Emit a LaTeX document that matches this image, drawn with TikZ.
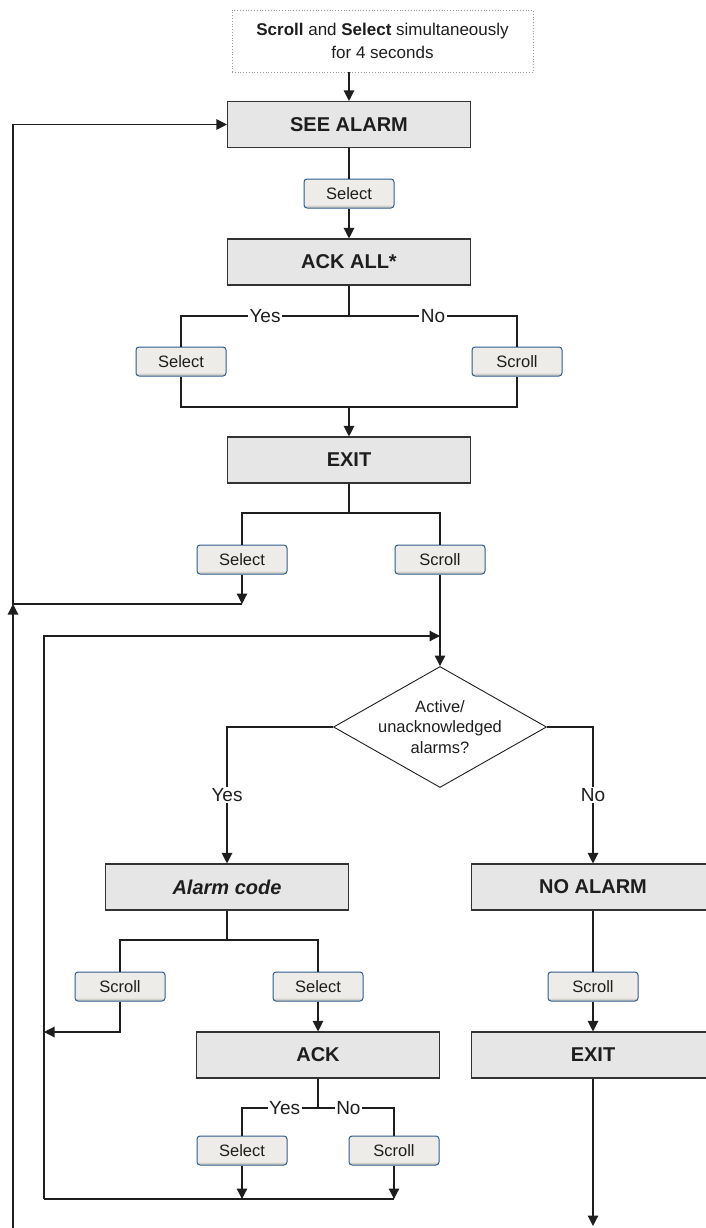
\documentclass[tikz,border=0pt]{standalone}
\usepackage{fontspec}
\setmainfont{Liberation Sans}
\usepackage{tikz}
\usetikzlibrary{shapes.geometric,arrows.meta}

\definecolor{boxfill}{HTML}{E6E6E6}
\definecolor{boxline}{HTML}{333333}
\definecolor{btnfill}{HTML}{EDECE8}
\definecolor{btnline}{HTML}{2E5D8C}
\definecolor{btnshade}{HTML}{D6D3CA}
\definecolor{wire}{HTML}{1E1E1E}
\definecolor{dotline}{HTML}{9A9A9A}

\tikzset{
  menubox/.style={draw=boxline, fill=boxfill, line width=1.1pt, minimum width=243pt,
    minimum height=46pt, inner sep=0pt, font=\fontsize{20}{24}\selectfont\bfseries},
  keybtn/.style={draw=btnline, fill=btnfill, rounded corners=3pt, line width=1pt,
    minimum width=90pt, minimum height=29pt, inner sep=0pt, font=\fontsize{16.5}{20}\selectfont,
    path picture={\fill[btnshade] ([yshift=2.5pt]path picture bounding box.south west)
      rectangle (path picture bounding box.south east);}},
  answer/.style={fill=white, inner sep=1.5pt, font=\fontsize{19}{22}\selectfont},
  query/.style={diamond, draw=wire, line width=0.9pt, minimum width=213pt, minimum height=121pt,
    inner sep=-20pt, align=center, font=\fontsize{16.5}{20.5}\selectfont},
  startbox/.style={draw=dotline, dotted, line width=0.8pt, minimum width=301pt, minimum height=62pt,
    align=center, font=\fontsize{17}{23}\selectfont},
}

\begin{document}
\begin{tikzpicture}[x=1pt,y=-1pt,>={Triangle[length=10.5pt,width=10.5pt]},line width=1.2pt,color=wire]
  \useasboundingbox (0,0) rectangle (705,1228);

  % upper menu
  \node[startbox] (start) at (382.5,41) {\textbf{Scroll} and \textbf{Select} simultaneously\\for 4 seconds};
  \node[menubox] (seealarm) at (349,124.5) {SEE ALARM};
  \node[keybtn] (sel1) at (349,193.5) {Select};
  \node[menubox] (ackall) at (349,262) {ACK ALL*};
  \node[keybtn] (sel2) at (181,361.5) {Select};
  \node[keybtn] (scr2) at (517,361.5) {Scroll};
  \node[menubox] (exit1) at (349,460) {EXIT};
  \node[keybtn] (sel3) at (242,559.5) {Select};
  \node[keybtn] (scr3) at (440,559.5) {Scroll};

  % alarm query
  \node[query] (q) at (440,727) {Active/\\unacknowledged\\alarms?};
  \node[menubox] (alarmcode) at (227,887) {\textit{Alarm code}};
  \node[menubox] (noalarm) at (593,887) {NO ALARM};
  \node[keybtn] (scr4) at (120,986.5) {Scroll};
  \node[keybtn] (sel4) at (318,986.5) {Select};
  \node[keybtn] (scr6) at (593,986.5) {Scroll};
  \node[menubox] (ack) at (318,1055) {ACK};
  \node[menubox] (exit2) at (593,1055) {EXIT};
  \node[keybtn] (sel5) at (242,1150.5) {Select};
  \node[keybtn] (scr5) at (394,1150.5) {Scroll};

  \coordinate (j1) at (349,316);
  \coordinate (m1) at (349,407);
  \coordinate (j2) at (349,513);
  \coordinate (back1) at (242,604);
  \coordinate (lft1) at (13,604);
  \coordinate (lft0) at (13,1228);
  \coordinate (join) at (440,636);
  \coordinate (lft2) at (44,636);
  \coordinate (lft3) at (44,1199);
  \coordinate (j3) at (227,940);
  \coordinate (back2) at (44,1032);
  \coordinate (j4) at (318,1108);
  \coordinate (m5a) at (242,1199);
  \coordinate (m5b) at (394,1199);
  \coordinate (out) at (593,1226);

  \draw[->] (start.south -| seealarm.north) -- (seealarm.north);
  \draw (seealarm) -- (sel1);
  \draw[->] (sel1) -- (ackall);
  \draw (ackall) -- (j1);
  \draw (j1) -| node[answer,pos=.25] {Yes} (sel2);
  \draw (j1) -| node[answer,pos=.25] {No} (scr2);
  \draw (sel2) |- (m1) -| (scr2);
  \draw[->] (m1) -- (exit1);
  \draw (exit1) -- (j2);
  \draw (j2) -| (sel3);
  \draw (j2) -| (scr3);
  \draw[->] (sel3) -- (back1);
  \draw[->] (back1) -- (lft1) |- (seealarm.west);
  \draw[->] (lft0) -- (lft1);
  \draw[->] (scr3) -- (q);
  \draw[->] (lft3) -- (lft2) -- (join);

  \draw[->] (q.west) -| node[answer,pos=.75] {Yes} (alarmcode);
  \draw[->] (q.east) -| node[answer,pos=.75] {No} (noalarm);
  \draw (alarmcode) -- (j3);
  \draw (j3) -| (scr4);
  \draw (j3) -| (sel4);
  \draw[->] (scr4) |- (back2);
  \draw[->] (sel4) -- (ack);
  \draw (ack) -- (j4);
  \draw (j4) -| node[answer,pos=.22] {Yes} (sel5);
  \draw (j4) -| node[answer,pos=.2] {No} (scr5);
  \draw[->] (sel5) -- (m5a);
  \draw[->] (scr5) -- (m5b);
  \draw (lft3) -- (m5b);
  \draw (noalarm) -- (scr6);
  \draw[->] (scr6) -- (exit2);
  \draw[->] (exit2) -- (out);
\end{tikzpicture}
\end{document}
